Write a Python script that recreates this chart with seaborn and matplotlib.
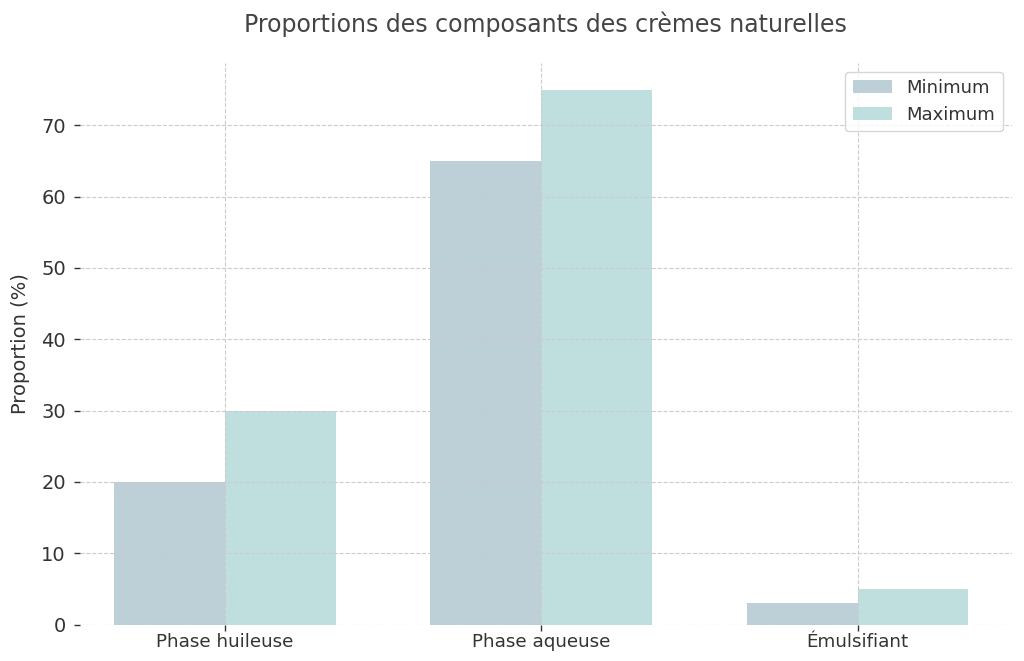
import matplotlib
matplotlib.use("Agg")
import matplotlib.pyplot as plt
import seaborn as sns
import pandas as pd

categories = ["Phase huileuse", "Phase aqueuse", "Émulsifiant"]
minimum = [20, 65, 3]
maximum = [30, 75, 5]
series_names = ["Minimum", "Maximum"]
colors = ["#bdd0d7", "#bfdfdf"]

df = pd.DataFrame({
    "Composant": categories * 2,
    "Proportion": minimum + maximum,
    "Série": [series_names[0]] * 3 + [series_names[1]] * 3,
})

sns.set_theme(style="whitegrid")
plt.rcParams.update({
    "font.family": ["DejaVu Sans"],
    "axes.axisbelow": False,
    "grid.linestyle": "--",
    "grid.color": "#cccccc",
    "grid.linewidth": 0.8,
    "text.color": "#333333",
    "axes.labelcolor": "#333333",
    "xtick.color": "#333333",
    "ytick.color": "#333333",
    "figure.facecolor": "white",
    "axes.facecolor": "white",
})

fig, ax = plt.subplots(figsize=(10.24, 6.61), dpi=100)

sns.barplot(
    data=df,
    x="Composant",
    y="Proportion",
    hue="Série",
    palette=colors,
    width=0.7,
    saturation=1,
    linewidth=0,
    edgecolor="none",
    ax=ax,
)

ax.set_title(
    "Proportions des composants des crèmes naturelles",
    fontsize=17,
    color="#444444",
    pad=22,
)
ax.set_xlabel("")
ax.set_ylabel("Proportion (%)", fontsize=14, labelpad=8)
ax.tick_params(axis="y", labelsize=14, length=4, left=True, width=1, pad=6)
ax.tick_params(axis="x", labelsize=13.2, length=4, bottom=True, width=1, pad=2)
ax.set_xlim(-0.458, 2.487)
ax.set_ylim(0, 78.75)
ax.grid(True, axis="both", linestyle="--", color="#cccccc", linewidth=0.8)

for spine in ax.spines.values():
    spine.set_visible(False)

leg = ax.legend(
    title=None,
    loc="upper right",
    fontsize=13,
    frameon=True,
    handlelength=2.2,
)
leg.get_frame().set_edgecolor("#cccccc")

fig.subplots_adjust(left=0.078, right=0.988, top=0.905, bottom=0.055)
plt.savefig("out.png", dpi=100)
